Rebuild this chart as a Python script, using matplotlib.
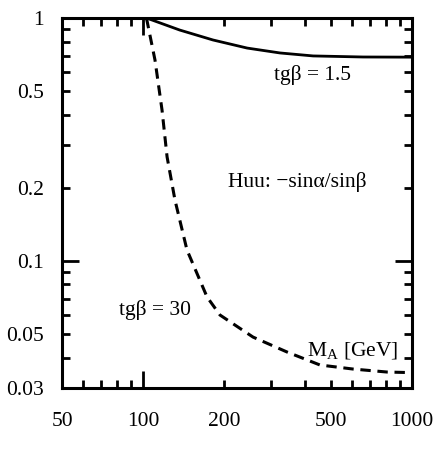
import matplotlib
matplotlib.use("Agg")
import matplotlib.pyplot as plt
from matplotlib.ticker import LogLocator, FuncFormatter

plt.rcParams["font.family"] = ["Liberation Serif", "DejaVu Serif"]
plt.rcParams["mathtext.fontset"] = "custom"
plt.rcParams["mathtext.rm"] = "Liberation Serif"
plt.rcParams["mathtext.it"] = "Liberation Serif:italic"

# M_A [GeV] vs. Huu coupling ratio
ma_tb15 = [103, 137, 182, 244, 323, 429, 658, 1000]
huu_tb15 = [1.0, 0.892, 0.812, 0.752, 0.718, 0.698, 0.691, 0.690]

ma_tb30 = [103, 110.8, 117.7, 122.9, 131.5, 145.7, 173, 193.3, 256.5, 343, 455, 604, 807, 1000]
huu_tb30 = [1.0, 0.672, 0.418, 0.268, 0.178, 0.111, 0.0711, 0.0599, 0.0486,
            0.0422, 0.0373, 0.0359, 0.0349, 0.0347]

x_labels = [50, 100, 200, 500, 1000]
y_labels = [0.03, 0.05, 0.1, 0.2, 0.5, 1]

fig = plt.figure(figsize=(4.38, 4.5), dpi=100)
ax = fig.add_axes([0.1416, 0.1378, 0.799, 0.8222])

ax.plot(ma_tb15, huu_tb15, color="black", lw=2.0, solid_capstyle="butt")
ax.plot(ma_tb30, huu_tb30, color="black", lw=2.2, linestyle=(0, (3.4, 2.2)))

ax.set_xscale("log")
ax.set_yscale("log")
ax.set_xlim(50, 1000)
ax.set_ylim(0.03, 1)

for s in ax.spines.values():
    s.set_linewidth(2.2)

ax.xaxis.set_major_locator(LogLocator(base=10, numticks=10))
ax.yaxis.set_major_locator(LogLocator(base=10, numticks=10))
ax.xaxis.set_minor_locator(LogLocator(base=10, subs=range(2, 10), numticks=20))
ax.yaxis.set_minor_locator(LogLocator(base=10, subs=range(2, 10), numticks=20))


def fmt_factory(vals):
    def f(v, pos):
        for t in vals:
            if abs(v - t) / t < 1e-6:
                return f"{t:g}"
        return ""
    return FuncFormatter(f)


ax.xaxis.set_major_formatter(fmt_factory(x_labels))
ax.xaxis.set_minor_formatter(fmt_factory(x_labels))
ax.yaxis.set_major_formatter(fmt_factory(y_labels))
ax.yaxis.set_minor_formatter(fmt_factory(y_labels))

ax.tick_params(which="both", direction="in", top=True, right=True,
               labelsize=15.5, width=2.0)
ax.tick_params(axis="x", which="both", pad=17)
ax.tick_params(axis="y", which="both", pad=13)
ax.tick_params(which="major", length=12)
ax.tick_params(which="minor", length=6)

fs = 15.5
ax.text(425, 0.582, "tgβ = 1.5", fontsize=fs, ha="center", va="center")
ax.text(375, 0.211, "Huu: −sinα/sinβ", fontsize=fs, ha="center", va="center")
ax.text(110.8, 0.0628, "tgβ = 30", fontsize=fs, ha="center", va="center")
ax.text(604, 0.0428, r"M$_\mathrm{A}$ [GeV]", fontsize=fs, ha="center", va="center")

fig.savefig("out.png", dpi=100)
